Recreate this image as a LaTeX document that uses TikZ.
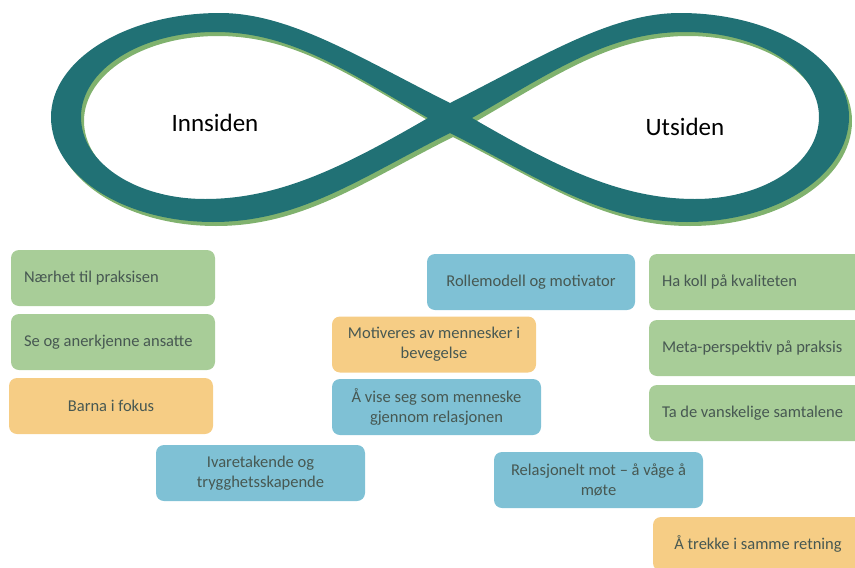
\documentclass[tikz,border=0pt]{standalone}
\usepackage{fontspec}
\setmainfont{Carlito}
\definecolor{bandteal}{RGB}{33,113,117}
\definecolor{bandshade}{RGB}{128,178,110}
\definecolor{boxgreen}{RGB}{168,205,152}
\definecolor{boxorange}{RGB}{246,205,133}
\definecolor{boxblue}{RGB}{127,193,213}
\definecolor{boxtext}{RGB}{71,88,82}

% The infinity band: outer contour plus the two inner holes, filled even-odd
\newcommand\infband[1]{%
  \fill[#1, even odd rule]
    (450,103) .. controls (360,58) and (290,13) .. (220,13)
    .. controls (126,13) and (51,60) .. (51,117)
    .. controls (51,175) and (123,222) .. (213,222)
    .. controls (300,222) and (360,178) .. (450,133)
    .. controls (540,178) and (600,222) .. (687,222)
    .. controls (777,222) and (849,175) .. (849,117)
    .. controls (849,60) and (774,13) .. (680,13)
    .. controls (610,13) and (540,58) .. (450,103) -- cycle
    (428,118) .. controls (345,70) and (290,32) .. (215,32)
    .. controls (140,32) and (81,70) .. (81,117)
    .. controls (81,163) and (136,199) .. (205,199)
    .. controls (280,199) and (345,166) .. (428,118) -- cycle
    (472,118) .. controls (555,70) and (610,32) .. (685,32)
    .. controls (760,32) and (819,70) .. (819,117)
    .. controls (819,163) and (764,199) .. (695,199)
    .. controls (620,199) and (555,166) .. (472,118) -- cycle;
}

% one line of text set flush left in a box of the given width
\newcommand\flushline[2]{\makebox[#1][l]{#2}}

\tikzset{
  card/.style={rounded corners=8pt, minimum height=56pt, inner xsep=13pt,
    inner ysep=2pt, text=boxtext, font=\fontsize{16.5}{20}\selectfont},
  greencard/.style={card, fill=boxgreen},
  orangecard/.style={card, fill=boxorange},
  bluecard/.style={card, fill=boxblue},
  side/.style={font=\fontsize{25}{30}\selectfont, text=black}
}

\begin{document}
\begin{tikzpicture}[x=1pt, y=-1pt]
  \useasboundingbox (0,0) rectangle (855,568);
  \clip (0,0) rectangle (855,568);

  % shaded band behind, then the band itself
  \begin{scope}[shift={(3,4)}]
    \infband{bandshade}
  \end{scope}
  \infband{bandteal}

  \node[side] (inside) at (215,123) {Innsiden};
  \node[side] (outside) at (685,127) {Utsiden};

  % left column
  \node[greencard] (near) at (113,278) {\flushline{178pt}{Nærhet til praksisen}};
  \node[greencard] (see) at (113,342) {\flushline{178pt}{Se og anerkjenne ansatte}};
  \node[orangecard, minimum width=204pt, align=center] (children) at (111,406) {Barna i fokus};
  \node[bluecard, minimum width=209pt, align=center] (care) at (260.5,473) {Ivaretakende og\\trygghetsskapende};

  % middle column
  \node[bluecard, minimum width=208pt, align=center] (role) at (531,282) {Rollemodell og motivator};
  \node[orangecard, minimum width=204pt, align=center] (motiv) at (434,344.5) {Motiveres av mennesker i\\bevegelse};
  \node[bluecard, minimum width=209pt, align=center] (human) at (436.5,407) {Å vise seg som menneske\\gjennom relasjonen};
  \node[bluecard, minimum width=209pt, align=center] (courage) at (598.5,480) {Relasjonelt mot – å våge å\\møte};

  % right column
  \node[greencard] (quality) at (759.5,282) {\flushline{195pt}{Ha koll på kvaliteten}};
  \node[greencard] (meta) at (759.5,348) {\flushline{195pt}{Meta-perspektiv på praksis}};
  \node[greencard] (talks) at (759.5,413) {\flushline{195pt}{Ta de vanskelige samtalene}};
  \node[orangecard, minimum width=210pt, minimum height=54pt, align=center] (together) at (758,544) {Å trekke i samme retning};
\end{tikzpicture}
\end{document}
